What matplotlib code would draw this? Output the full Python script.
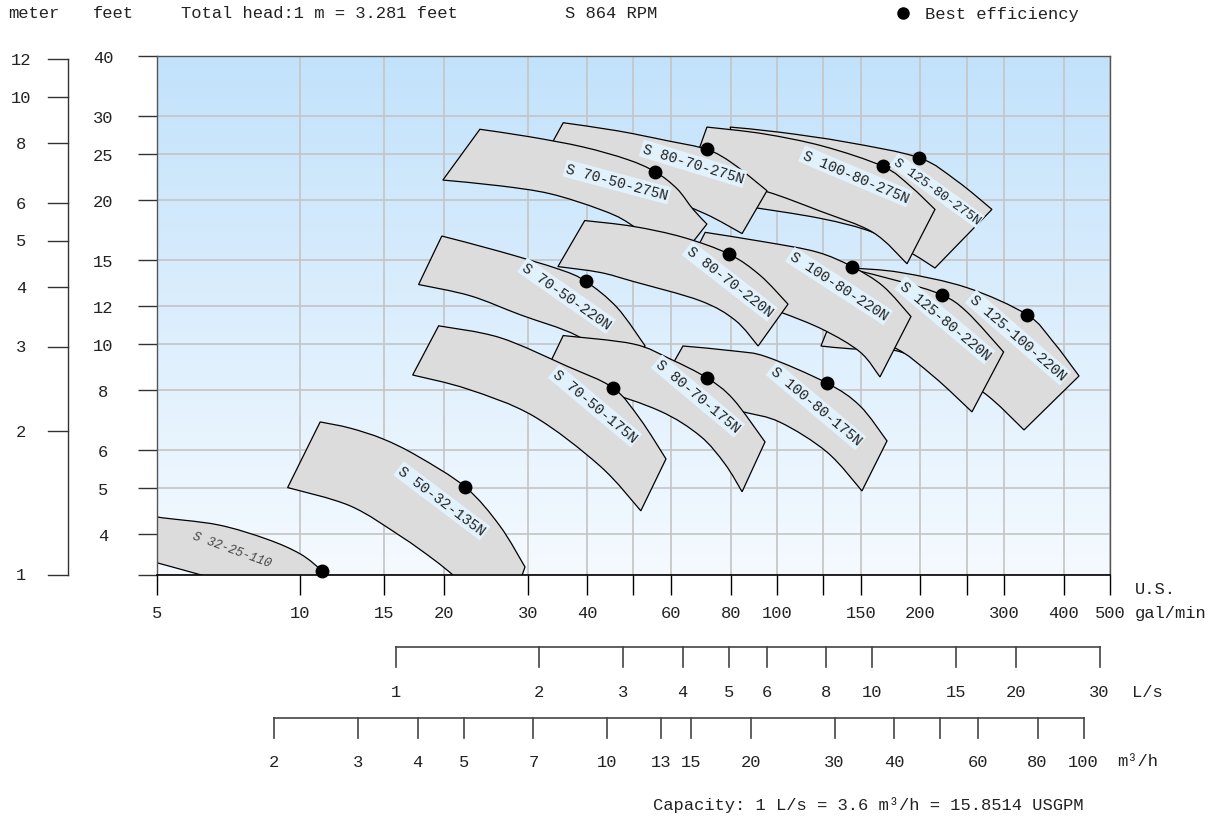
import matplotlib
matplotlib.use("Agg")
import matplotlib.pyplot as plt
import matplotlib.transforms as mtransforms
from matplotlib.lines import Line2D
from matplotlib.patches import PathPatch
from matplotlib.path import Path
from matplotlib.ticker import FixedLocator, FixedFormatter, NullLocator
import numpy as np

plt.rcParams["font.family"] = ["Liberation Mono", "DejaVu Sans"]

FT_PER_M = 3.281
GPM_PER_LPS = 15.8514
GPM_PER_M3H = GPM_PER_LPS / 3.6

# axis scales
gpm_ticks = [5, 10, 15, 20, 30, 40, 50, 60, 80, 100, 125, 150, 200, 250, 300, 400, 500]
gpm_labels = ["5", "10", "15", "20", "30", "40", "", "60", "80", "100", "", "150", "200", "", "300", "400", "500"]
feet_ticks = [FT_PER_M, 4, 5, 6, 8, 10, 12, 15, 20, 25, 30, 40]
feet_labels = ["", "4", "5", "6", "8", "10", "12", "15", "20", "25", "30", "40"]
meter_ticks = [1, 2, 3, 4, 5, 6, 8, 10, 12]
lps_ticks = [1, 2, 3, 4, 5, 6, 8, 10, 15, 20, 30]
m3h_ticks = [2, 3, 4, 5, 7, 10, 13, 15, 20, 30, 40, 50, 60, 80, 100]
m3h_labels = ["2", "3", "4", "5", "7", "10", "13", "15", "20", "30", "40", "", "60", "80", "100"]

# pump curves, (gal/min, feet): upper curve and lower curve, left to right
S125_80_275N_TOP = [(79.8, 28.4), (101.5, 27.7), (140.3, 26.4), (198.6, 24.5), (238.7, 21.9), (282.6, 19.1)]
S125_80_275N_BOT = [(85.7, 19.4), (123.1, 18.3), (159.0, 17.1), (193.0, 15.4), (214.6, 14.4)]
S100_80_275N_TOP = [(71.3, 28.4), (93.5, 27.5), (125.0, 25.9), (166.9, 23.5), (190.2, 21.4), (214.6, 19.1)]
S100_80_275N_BOT = [(65.7, 22.6), (76.0, 21.9), (95.3, 20.8), (123.1, 18.95), (159.0, 17.1), (187.5, 14.7)]
S80_70_275N_TOP = [(35.6, 29.0), (46.2, 27.9), (58.8, 26.6), (71.3, 25.5), (80.9, 23.8), (95.3, 20.9)]
S80_70_275N_BOT = [(31.1, 22.7), (42.5, 21.8), (56.8, 20.3), (70.7, 18.7), (84.5, 17.0)]
S70_50_275N_TOP = [(23.8, 28.1), (30.3, 27.1), (39.2, 25.8), (48.5, 24.3), (55.5, 22.9), (61.7, 21.1), (66.7, 19.1), (71.3, 17.8)]
S70_50_275N_BOT = [(19.9, 22.0), (26.2, 21.4), (33.4, 20.6), (42.5, 19.1), (49.2, 17.8), (62.0, 14.9)]

S125_100_220N_TOP = [(143.7, 14.4), (181.2, 14.1), (250.5, 13.1), (334.8, 11.5), (379.7, 10.1), (430.5, 8.56)]
S125_100_220N_BOT = [(123.7, 9.89), (144.4, 9.75), (175.2, 9.70), (212.6, 9.02), (270.6, 7.92), (330.0, 6.6)]
S125_80_220N_TOP = [(144.4, 14.3), (181.2, 13.5), (222.0, 12.65), (250.5, 11.65), (299.0, 9.61)]
S125_80_220N_BOT = [(134.3, 10.5), (175.2, 9.84), (212.6, 8.56), (256.6, 7.2)]
S100_80_220N_TOP = [(70.7, 17.1), (95.3, 16.3), (121.4, 15.55), (143.7, 14.5), (166.9, 13.2), (191.1, 11.4)]
S100_80_220N_BOT = [(62.6, 13.5), (83.7, 12.4), (101.5, 11.65), (125.0, 10.7), (149.4, 9.61), (164.5, 8.52)]
S80_70_220N_TOP = [(39.5, 18.1), (49.9, 17.6), (63.5, 16.7), (79.3, 15.4), (92.2, 13.9), (105.5, 12.1)]
S80_70_220N_BOT = [(34.7, 14.5), (42.5, 14.1), (49.9, 13.5), (69.0, 12.3), (81.7, 11.2), (91.3, 9.89)]
S70_50_220N_TOP = [(19.8, 16.8), (26.2, 15.6), (35.0, 14.3), (39.7, 13.5), (46.2, 11.9), (52.9, 9.89)]
S70_50_220N_BOT = [(17.7, 13.3), (22.7, 12.6), (28.9, 11.5), (38.0, 10.4), (45.7, 9.07)]

S100_80_175N_TOP = [(63.5, 9.89), (81.7, 9.65), (95.3, 9.38), (127.4, 8.27), (149.4, 7.41), (170.2, 6.26)]
S100_80_175N_BOT = [(55.5, 7.81), (69.0, 7.55), (84.9, 7.2), (101.5, 6.85), (127.4, 5.93), (150.8, 4.92)]
S80_70_175N_TOP = [(35.6, 10.4), (49.9, 9.99), (59.7, 9.29), (71.3, 8.48), (80.9, 7.66), (94.4, 6.23)]
S80_70_175N_BOT = [(31.8, 8.23), (42.5, 7.96), (56.8, 7.23), (69.0, 6.41), (77.8, 5.6), (84.5, 4.9)]
S70_50_175N_TOP = [(19.5, 10.9), (26.2, 10.3), (36.2, 8.98), (45.3, 8.08), (51.6, 6.96), (58.5, 5.74)]
S70_50_175N_BOT = [(17.2, 8.6), (22.4, 8.04), (30.8, 7.06), (42.5, 5.55), (51.8, 4.47)]

S50_32_135N_TOP = [(11.0, 6.86), (12.7, 6.66), (14.9, 6.32), (17.6, 5.82), (22.2, 5.01), (26.2, 4.16), (29.6, 3.41)]
S50_32_135N_BOT = [(9.4, 5.0), (12.7, 4.58), (16.2, 3.96), (19.0, 3.54), (20.9, 3.28), (21.4, 3.19), (28.9, 3.19)]
S32_25_110_TOP = [(4.6, 4.47), (5.0, 4.34), (6.7, 4.18), (8.5, 3.90), (10.0, 3.63), (11.1, 3.35), (11.7, 3.19)]
S32_25_110_BOT = [(4.6, 3.56), (5.0, 3.48), (6.2, 3.28), (6.6, 3.22)]

# best efficiency points
bep_q = [198.6, 166.9, 71.3, 55.5, 334.8, 222.0, 143.7, 79.3, 39.7, 127.4, 71.3, 45.3, 22.2, 11.1]
bep_h = [24.5, 23.5, 25.5, 22.9, 11.5, 12.65, 14.5, 15.4, 13.5, 8.27, 8.48, 8.08, 5.01, 3.35]

# draw order: back to front
pumps = [
    ("S 125-80-275N", S125_80_275N_TOP, S125_80_275N_BOT),
    ("S 100-80-275N", S100_80_275N_TOP, S100_80_275N_BOT),
    ("S 80-70-275N", S80_70_275N_TOP, S80_70_275N_BOT),
    ("S 70-50-275N", S70_50_275N_TOP, S70_50_275N_BOT),
    ("S 125-100-220N", S125_100_220N_TOP, S125_100_220N_BOT),
    ("S 125-80-220N", S125_80_220N_TOP, S125_80_220N_BOT),
    ("S 100-80-220N", S100_80_220N_TOP, S100_80_220N_BOT),
    ("S 80-70-220N", S80_70_220N_TOP, S80_70_220N_BOT),
    ("S 70-50-220N", S70_50_220N_TOP, S70_50_220N_BOT),
    ("S 100-80-175N", S100_80_175N_TOP, S100_80_175N_BOT),
    ("S 80-70-175N", S80_70_175N_TOP, S80_70_175N_BOT),
    ("S 70-50-175N", S70_50_175N_TOP, S70_50_175N_BOT),
    ("S 50-32-135N", S50_32_135N_TOP, S50_32_135N_BOT),
    ("S 32-25-110", S32_25_110_TOP, S32_25_110_BOT),
]

# label placement (gal/min, feet, rotation)
label_pos = {
    "S 125-80-275N": (216.7, 20.9, -36),
    "S 100-80-275N": (146.2, 22.4, -23),
    "S 80-70-275N": (66.7, 23.8, -17),
    "S 70-50-275N": (46.2, 21.8, -15),
    "S 125-100-220N": (320.5, 10.3, -41),
    "S 125-80-220N": (225.2, 11.2, -40),
    "S 100-80-220N": (135.0, 13.2, -33),
    "S 80-70-220N": (79.6, 13.5, -38),
    "S 70-50-220N": (36.2, 12.6, -35),
    "S 100-80-175N": (120.8, 7.41, -40),
    "S 80-70-175N": (68.3, 7.77, -40),
    "S 70-50-175N": (41.5, 7.41, -40),
    "S 50-32-135N": (19.8, 4.69, -37),
    "S 32-25-110": (7.18, 3.72, -20),
}

W, H = 1219, 820
FS = 12.3


def fx(px):
    return px / W


def fy(py):
    return 1 - py / H


def smooth_segments(pts):
    # catmull-rom through the read points, done in log space so it is smooth on screen
    p = np.log10(np.array(pts, dtype=float))
    verts, codes = [], []
    n = len(p)
    for i in range(n - 1):
        p0 = p[max(i - 1, 0)]
        p1, p2 = p[i], p[i + 1]
        p3 = p[min(i + 2, n - 1)]
        c1 = p1 + (p2 - p0) / 6.0
        c2 = p2 - (p3 - p1) / 6.0
        verts += [c1, c2, p2]
        codes += [Path.CURVE4] * 3
    return verts, codes


def pump_path(top, bot):
    verts = [np.log10(np.array(top[0], dtype=float))]
    codes = [Path.MOVETO]
    v, c = smooth_segments(top)
    verts += v
    codes += c
    verts.append(np.log10(np.array(bot[-1], dtype=float)))
    codes.append(Path.LINETO)
    v, c = smooth_segments(bot[::-1])
    verts += v
    codes += c
    verts.append(verts[0])
    codes.append(Path.CLOSEPOLY)
    return Path(10 ** np.array(verts), codes)


fig = plt.figure(figsize=(W / 100, H / 100), dpi=100)
rect = [fx(157), fy(576), fx(1110) - fx(157), fy(57) - fy(576)]

# gradient background
bg = fig.add_axes(rect, zorder=0)
t = np.linspace(0, 1, 200)[:, None]
top_c = np.array([194, 226, 251]) / 255.0
bot_c = np.array([245, 250, 255]) / 255.0
grad = top_c[None, None, :] * (1 - t[..., None]) + bot_c[None, None, :] * t[..., None]
bg.imshow(grad, aspect="auto", extent=[0, 1, 0, 1])
bg.axis("off")

ax = fig.add_axes(rect, zorder=1)
ax.set_facecolor("none")
ax.set_xscale("log")
ax.set_yscale("log")
ax.set_axisbelow(True)

for name, top, bot in pumps:
    ax.add_patch(PathPatch(pump_path(top, bot), facecolor="#dcdcdc", edgecolor="black", linewidth=0.9))

ax.plot(bep_q, bep_h, "o", color="black", markersize=9, zorder=6, clip_on=False)

for name, top, bot in pumps:
    q, h, rot = label_pos[name]
    if name == "S 32-25-110":
        ax.text(q, h, name, rotation=rot, rotation_mode="anchor", ha="center", va="center",
                fontsize=9, color="#444444", style="italic", zorder=7)
    else:
        size = 9.5 if name == "S 125-80-275N" else 10.5
        ax.text(q, h, name, rotation=rot, rotation_mode="anchor", ha="center", va="center",
                fontsize=size, color="#222222", zorder=7,
                bbox=dict(boxstyle="square,pad=0.12", facecolor="#e2f2fc", edgecolor="none"))

ax.xaxis.set_major_locator(FixedLocator(gpm_ticks))
ax.xaxis.set_major_formatter(FixedFormatter(gpm_labels))
ax.xaxis.set_minor_locator(NullLocator())
ax.yaxis.set_major_locator(FixedLocator(feet_ticks))
ax.yaxis.set_major_formatter(FixedFormatter(feet_labels))
ax.yaxis.set_minor_locator(NullLocator())
ax.grid(True, which="major", color="#c4c4c4", linewidth=1.2)

ax.tick_params(axis="x", direction="out", length=14.4, width=1.0, color="black",
               pad=7, labelsize=FS, labelcolor="#222222")
ax.tick_params(axis="y", direction="out", length=13.7, width=1.0, color="#333333",
               pad=25.2, labelsize=FS, labelcolor="#222222")
for lbl in ax.get_yticklabels():
    lbl.set_horizontalalignment("center")

for side in ["left", "top", "right"]:
    ax.spines[side].set_color("#555555")
    ax.spines[side].set_linewidth(1.0)
ax.spines["bottom"].set_color("black")
ax.spines["bottom"].set_linewidth(1.2)

# meter scale on the far left
tr_y = mtransforms.blended_transform_factory(fig.transFigure, ax.transData)
ax.plot([fx(68), fx(68)], [meter_ticks[0] * FT_PER_M, meter_ticks[-1] * FT_PER_M],
        transform=tr_y, color="#333333", lw=1.0, clip_on=False)
for m in meter_ticks:
    ax.plot([fx(48), fx(68)], [m * FT_PER_M] * 2, transform=tr_y, color="#333333", lw=1.0, clip_on=False)
    ax.text(fx(21), m * FT_PER_M, str(m), transform=tr_y, ha="center", va="center",
            fontsize=FS, color="#222222")

# L/s and m3/h scales below
tr_x = mtransforms.blended_transform_factory(ax.transData, fig.transFigure)


def flow_scale(ticks, labels, factor, y_line, y_label):
    q = [v * factor for v in ticks]
    ax.plot([q[0], q[-1]], [fy(y_line)] * 2, transform=tr_x, color="#444444", lw=1.2, clip_on=False)
    for qi, lab in zip(q, labels):
        ax.plot([qi, qi], [fy(y_line), fy(y_line + 20)], transform=tr_x,
                color="#444444", lw=1.2, clip_on=False)
        if lab:
            ax.text(qi, fy(y_label), lab, transform=tr_x, ha="center", va="center",
                    fontsize=FS, color="#222222")


flow_scale(lps_ticks, [str(v) for v in lps_ticks], GPM_PER_LPS, 648, 693)
flow_scale(m3h_ticks, m3h_labels, GPM_PER_M3H, 719, 763)

ax.set_xlim(5, 500)
ax.set_ylim(FT_PER_M, 40)

txt = dict(fontsize=FS, color="#222222", va="center")
fig.text(fx(8), fy(14), "meter", ha="left", **txt)
fig.text(fx(93), fy(14), "feet", ha="left", **txt)
fig.text(fx(181), fy(14), "Total head:1 m = 3.281 feet", ha="left", **txt)
fig.text(fx(565), fy(14), "S 864 RPM", ha="left", **txt)
fig.add_artist(Line2D([fx(903)], [fy(14)], marker="o", markersize=8, color="black",
                      transform=fig.transFigure))
fig.text(fx(925), fy(14), "Best efficiency", ha="left", **txt)

fig.text(fx(1135), fy(590), "U.S.", ha="left", **txt)
fig.text(fx(1135), fy(614), "gal/min", ha="left", **txt)
fig.text(fx(1132), fy(693), "L/s", ha="left", **txt)
fig.text(fx(1117), fy(762), "m³/h", ha="left", **txt)
fig.text(fx(868), fy(805), "Capacity: 1 L/s = 3.6 m³/h = 15.8514 USGPM", ha="center", **txt)

fig.savefig("out.png", dpi=100)
